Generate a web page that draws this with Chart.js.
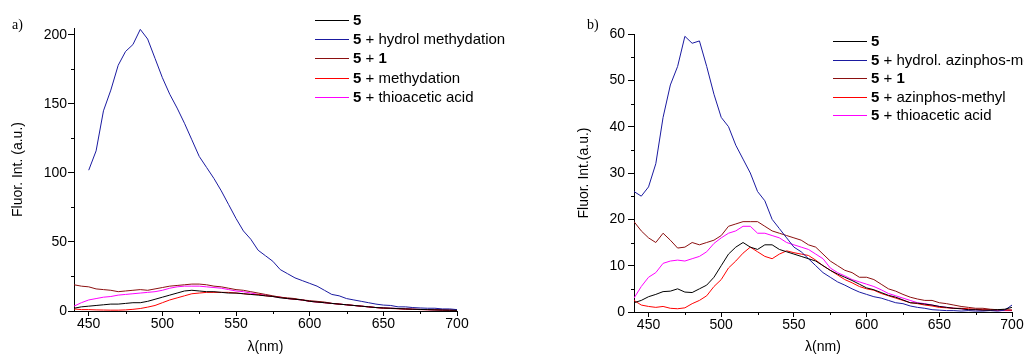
<!DOCTYPE html>
<html>
<head>
<meta charset="utf-8">
<script src="https://cdn.jsdelivr.net/npm/chart.js@4.4.0/dist/chart.umd.min.js"></script>
<style>
  body { margin: 0; background: #fff; width: 1024px; height: 356px; position: relative; overflow: hidden; }
  canvas { position: absolute; top: 0; }
  #chartA { left: 0; }
  #chartB { left: 512px; }
  .panel { position: absolute; font-family: "Liberation Serif", serif; font-size: 14px; color: #000; }
</style>
</head>
<body>
<canvas id="chartA" width="512" height="356"></canvas>
<canvas id="chartB" width="512" height="356"></canvas>
<div class="panel" style="left:12px;top:17px">a)</div>
<div class="panel" style="left:587px;top:17px">b)</div>
<script>
'use strict';

// wavelength (nm), shared by every spectrum
var wavelengths = [
    440, 445, 450, 455, 460, 465, 470, 475, 480, 485,
    490, 495, 500, 505, 510, 515, 520, 525, 530, 535,
    540, 545, 550, 555, 560, 565, 570, 575, 580, 585,
    590, 595, 600, 605, 610, 615, 620, 625, 630, 635,
    640, 645, 650, 655, 660, 665, 670, 675, 680, 685,
    690, 695, 700
];

// panel a)
var a_5 = [
    2, 3, 3.5, 4, 4.5, 5, 5, 5.5, 6, 6,
    7, 8.5, 10, 11.5, 13, 14.5, 15, 14.5, 14, 14,
    13.5, 13, 13, 12.5, 12, 11.5, 11, 10.5, 9.5, 9,
    8.5, 8, 7, 6.5, 6, 5.5, 5, 4.5, 4, 3.5,
    3, 2.5, 2.2, 2, 1.7, 1.5, 1.3, 1.1, 1, 0.8,
    0.7, 0.6, 0.5
];
var a_hydrol = [
    null, null, 102, 116, 145, 160, 178, 188, 193, 204,
    197, 183, 169, 157, 147, 136, 124, 112, 104, 96,
    87, 77, 67, 58, 52, 44, 40, 36, 30, 27,
    24, 22, 20, 18, 15, 12, 11, 9, 8, 7,
    6, 5, 4.3, 4, 3, 3, 2.5, 2.2, 2, 2,
    1.5, 1.5, 1
];
var a_5_1 = [
    19, 18, 17.5, 16, 15.5, 15, 14, 14.5, 15, 15.5,
    15, 16, 17, 18, 18.5, 19, 19.5, 19.5, 19, 18,
    17.5, 16.5, 15.5, 15, 14, 13, 12, 11, 10, 9.5,
    9, 8, 7.5, 7, 6.5, 5.5, 5, 4.5, 4, 3.5,
    3, 2.5, 2.2, 2, 1.8, 1.5, 1.3, 1.2, 1, 0.9,
    0.8, 0.7, 0.6
];
var a_meth = [
    1.5, 1, 1, 0.8, 0.7, 0.6, 0.6, 0.8, 1.2, 1.8,
    2.8, 4, 6, 8, 9.5, 11, 12.5, 13, 13.5, 13.5,
    13.5, 13.5, 13, 12.5, 12, 12, 11, 10.5, 10, 9,
    8.5, 8, 7, 6.5, 6, 5.5, 5, 4.5, 4, 3.5,
    3, 2.5, 2, 1.8, 1.6, 1.4, 1.2, 1, 0.9, 0.8,
    0.6, 0.5, 0.4
];
var a_thio = [
    3.5, 6, 8, 9, 10, 10.5, 11.5, 12, 12.5, 13,
    13.5, 14, 15, 16.5, 17.5, 18, 18, 18, 17.5, 17,
    16.5, 15.5, 14.5, 14, 13, 12, 11.5, 10.5, 10, 9,
    8.5, 8, 7, 6.5, 6, 5.5, 5, 4.5, 4, 3.5,
    3, 2.5, 2.2, 2, 1.8, 1.5, 1.3, 1.1, 1, 0.9,
    0.8, 0.6, 0.5
];

// panel b)
var b_5 = [
    2, 2.5, 3.3, 3.8, 4.4, 4.5, 5, 4.3, 4.2, 5,
    5.8, 7.5, 10, 12.5, 14, 15, 14, 13.5, 14.5, 14.5,
    13.5, 13, 12.5, 12, 11.5, 11, 10, 9, 8.2, 7.5,
    6.8, 6, 5.2, 4.8, 4.2, 3.6, 3.2, 2.6, 2, 1.9,
    1.7, 1.5, 1.2, 1, 0.8, 0.7, 0.5, 0.5, 0.4, 0.4,
    0.5, 0.6, 1
];
var b_hydrol = [
    26, 25, 27, 32, 42, 49, 53, 59.5, 58, 58.5,
    53, 47, 42, 40, 36, 33, 30, 26, 24, 20,
    18, 16, 14, 13, 11.5, 10, 8.5, 7.5, 6.5, 5.8,
    5, 4.3, 3.8, 3.3, 3, 2.5, 2, 1.8, 1.3, 1,
    0.8, 0.5, 0.4, 0.3, 0.3, 0.2, 0.3, 0.2, 0.2, 0.3,
    0.2, 0.4, 1.5
];
var b_5_1 = [
    19.5, 17.5, 16, 15, 17, 15.5, 13.8, 14, 15, 14.5,
    15, 15.5, 16.5, 18.5, 19, 19.5, 19.5, 19.5, 18.5, 17.5,
    17, 16.5, 16, 15.5, 14.5, 14, 12.5, 11, 10, 9,
    8.5, 7.5, 7.5, 7, 6, 5, 4.5, 3.8, 3.2, 2.8,
    2.5, 2.5, 2, 1.8, 1.5, 1.2, 1, 0.8, 0.8, 0.6,
    0.5, 0.5, 0.4
];
var b_azin = [
    2.5, 1.5, 1.2, 1, 1.2, 0.8, 0.7, 0.9, 1.8, 2.5,
    3.5, 5.5, 7, 9.5, 11, 12.7, 14, 13, 12, 11.5,
    12.5, 13.2, 12.8, 12.5, 12.2, 11.2, 10, 9, 8, 7,
    6.3, 5.5, 5, 4.7, 4, 3.5, 3, 2.5, 2, 1.8,
    1.5, 1.3, 1, 0.9, 0.8, 0.8, 0.7, 0.6, 0.5, 0.5,
    0.4, 0.4, 0.4
];
var b_thio = [
    3, 5.5, 7.5, 8.5, 10.5, 11, 11.2, 11, 11.5, 12,
    13, 14.8, 16, 17, 17.5, 18.5, 18.5, 17, 17, 16.5,
    16, 15, 14.5, 14, 13.5, 12.5, 11.5, 9.5, 8.5, 7.8,
    7, 6.5, 6, 5.5, 4.8, 4, 3.5, 3, 2.5, 2,
    1.8, 1.5, 1.2, 1, 0.8, 0.7, 0.5, 0.5, 0.4, 0.4,
    0.3, 0.3, 0.3
];

var labelsA = ['5', '5 + hydrol methydation', '5 + 1', '5 + methydation', '5 + thioacetic acid'];
var labelsB = ['5', '5 + hydrol. azinphos-methyl', '5 + 1', '5 + azinphos-methyl', '5 + thioacetic acid'];

var xTicks = [450, 500, 550, 600, 650, 700];
var xMinor = [475, 525, 575, 625, 675];
var yTicksA = [0, 50, 100, 150, 200];
var yMinorA = [25, 75, 125, 175];
var yTicksB = [0, 10, 20, 30, 40, 50, 60];
var yMinorB = [5, 15, 25, 35, 45, 55];

var colors = ['#000000', '#1a1aa0', '#8b1010', '#ff0000', '#ff00ff'];
var FONT = '"Liberation Sans", Arial, sans-serif';

// short unlabelled ticks between the major ones
var minorTicks = {
    id: 'minorTicks',
    afterDraw: function (chart, args, opts) {
        var ctx = chart.ctx, xs = chart.scales.x, ys = chart.scales.y;
        ctx.save();
        ctx.strokeStyle = '#000';
        ctx.lineWidth = 1;
        ctx.beginPath();
        opts.x.forEach(function (v) {
            var px = Math.round(xs.getPixelForValue(v)) + 0.5;
            ctx.moveTo(px, xs.top);
            ctx.lineTo(px, xs.top + opts.len);
        });
        opts.y.forEach(function (v) {
            var py = Math.round(ys.getPixelForValue(v)) + 0.5;
            ctx.moveTo(ys.right, py);
            ctx.lineTo(ys.right - opts.len, py);
        });
        ctx.stroke();
        ctx.restore();
    }
};

// legend with the compound numbers in bold
var richLegend = {
    id: 'richLegend',
    afterDraw: function (chart, args, opts) {
        var ctx = chart.ctx;
        ctx.save();
        ctx.textBaseline = 'middle';
        chart.data.datasets.forEach(function (ds, i) {
            var y = Math.round(opts.top + i * opts.step) + 0.5;
            ctx.strokeStyle = ds.borderColor;
            ctx.lineWidth = 1;
            ctx.beginPath();
            ctx.moveTo(opts.x, y);
            ctx.lineTo(opts.x + opts.len, y);
            ctx.stroke();
            var tx = opts.x + opts.len + opts.gap;
            ctx.fillStyle = '#000';
            ds.label.split(/(\s+)/).forEach(function (part) {
                ctx.font = (/^\d+$/.test(part) ? 'bold ' : '') + opts.size + 'px ' + FONT;
                ctx.fillText(part, tx, y);
                tx += ctx.measureText(part).width;
            });
        });
        ctx.restore();
    }
};

function draw_panel(id, series, labels, o) {
    var datasets = series.map(function (s, i) {
        return {
            label: labels[i],
            data: wavelengths.map(function (w, k) { return { x: w, y: s[k] }; }),
            borderColor: colors[i],
            borderWidth: 1,
            pointRadius: 0,
            tension: 0,
            fill: false
        };
    });

    var ctx = document.getElementById(id).getContext('2d');
    return new Chart(ctx, {
        type: 'line',
        data: { datasets: datasets },
        plugins: [minorTicks, richLegend],
        options: {
            responsive: false,
            animation: false,
            devicePixelRatio: 1,
            events: [],
            layout: { padding: { left: 0, right: o.padR, top: o.padT, bottom: 0 } },
            plugins: {
                legend: { display: false },
                tooltip: { enabled: false },
                minorTicks: { x: xMinor, y: o.yMinor, len: 3 },
                richLegend: o.legend
            },
            scales: {
                x: {
                    type: 'linear',
                    min: 440,
                    max: 700,
                    afterBuildTicks: function (s) { s.ticks = xTicks.map(function (v) { return { value: v }; }); },
                    afterFit: function (s) { s.height = o.xh; },
                    border: { color: '#000', width: 1 },
                    grid: { drawOnChartArea: false, drawTicks: true, tickLength: 5, tickColor: '#000' },
                    ticks: { color: '#000', font: { size: 14, family: FONT }, padding: 0, maxRotation: 0, autoSkip: false },
                    title: { display: true, text: 'λ(nm)', color: '#000', font: { size: 14, family: FONT }, padding: { top: 0, bottom: 0 } }
                },
                y: {
                    min: 0,
                    max: o.yMax,
                    afterBuildTicks: function (s) { s.ticks = o.yTicks.map(function (v) { return { value: v }; }); },
                    afterFit: function (s) { s.width = o.yw; },
                    border: { color: '#000', width: 1 },
                    grid: { drawOnChartArea: false, drawTicks: true, tickLength: 6, tickColor: '#000' },
                    ticks: { color: '#000', font: { size: 14, family: FONT }, padding: o.yPad, autoSkip: false },
                    title: { display: true, text: o.yTitle, color: '#000', font: { size: 14, family: FONT }, padding: { top: o.yTitlePad, bottom: 0 } }
                }
            }
        }
    });
}

draw_panel('chartA', [a_5, a_hydrol, a_5_1, a_meth, a_thio], labelsA, {
    padR: 55, padT: 28, xh: 45, yw: 74, yPad: 1,
    yMax: 205, yTicks: yTicksA, yMinor: yMinorA,
    yTitle: 'Fluor. Int. (a.u.)', yTitlePad: 10,
    legend: { x: 315, len: 34, gap: 4, top: 20, step: 19.2, size: 15 }
});

draw_panel('chartB', [b_5, b_hydrol, b_5_1, b_azin, b_thio], labelsB, {
    padR: 12, padT: 34, xh: 44, yw: 122, yPad: 3,
    yMax: 60, yTicks: yTicksB, yMinor: yMinorB,
    yTitle: 'Fluor. Int.(a.u.)', yTitlePad: 63.6,
    legend: { x: 321, len: 34, gap: 4, top: 41, step: 18.6, size: 15 }
});
</script>
</body>
</html>
